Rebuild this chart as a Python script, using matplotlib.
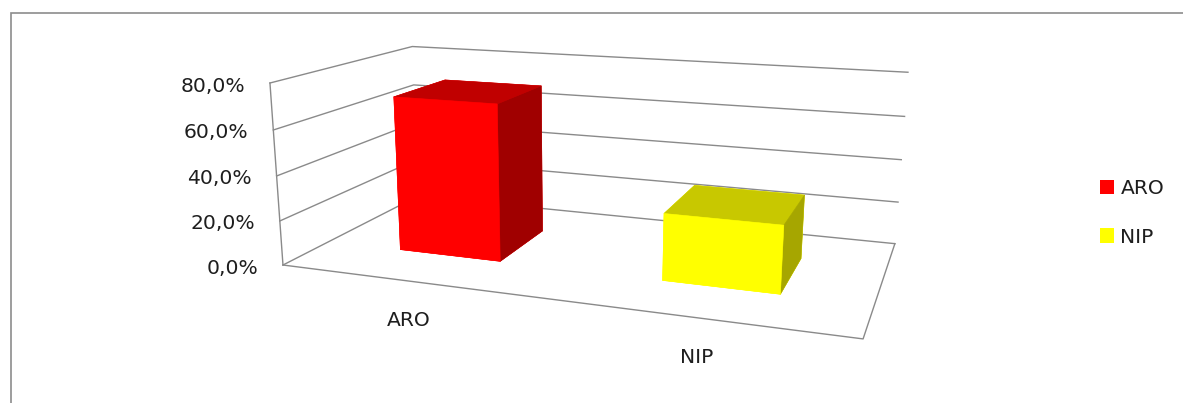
import matplotlib
matplotlib.use("Agg")
import matplotlib.pyplot as plt
from matplotlib import transforms as mtransforms
from matplotlib.patches import Patch, Rectangle

# --- data -------------------------------------------------------------
categories = ["ARO", "NIP"]
shares = [0.703, 0.292]
z_ticks = [0.0, 0.2, 0.4, 0.6, 0.8]
z_tick_labels = ["0,0%", "20,0%", "40,0%", "60,0%", "80,0%"]

# face colours per bar: (front, top, right side)
bar_faces = [("#FF0000", "#C00000", "#A00000"),
             ("#FFFF00", "#C8C800", "#A6A600")]

plt.rcParams["font.family"] = ["DejaVu Sans"]
FS = 14.6
TEXT = "#1e1e1e"
GRID = "#8a8a8a"

W_PX, H_PX = 1183, 403
fig = plt.figure(figsize=(W_PX / 100, H_PX / 100), dpi=100)

# square 3-D axes; the camera target sits a little below the middle of
# the drawn box so the walls are seen from the right and from above
side = 635.8
left, bottom = 260.5, -125.5
ax = fig.add_axes([left / W_PX, bottom / H_PX, side / W_PX, side / H_PX],
                  projection="3d", computed_zorder=False)

n = len(categories)
depth = 1.0
zmax = z_ticks[-1]
cx, cy, cz = 0.9713, 0.4555, 0.2534          # camera target
ax.set_xlim(cx - n / 2, cx + n / 2)
ax.set_ylim(cy - depth / 2, cy + depth / 2)
ax.set_zlim(cz - zmax / 2, cz + zmax / 2)
ax.set_xticks([])
ax.set_yticks([])
ax.set_zticks([])
ax.set_box_aspect((3.1008, 1.5552, 1.0))
ax.view_init(elev=15.22, azim=-70.24, roll=-0.12)
ax.set_proj_type("persp", focal_length=0.33164)
ax.set_axis_off()
for axis in (ax.xaxis, ax.yaxis, ax.zaxis):
    axis.label.set_visible(False)
    axis.offsetText.set_visible(False)

# walls: value gridlines run along the left wall and then the back wall
for z in z_ticks:
    ax.plot([0, 0, n], [0, depth, depth], [z, z, z], color=GRID, lw=1.0,
            clip_on=False, zorder=1)
# floor outline and vertical value axis
ax.plot([0, n, n], [0, 0, depth], [0, 0, 0], color=GRID, lw=1.0,
        clip_on=False, zorder=1)
ax.plot([0, 0], [0, 0], [0, zmax], color=GRID, lw=1.0,
        clip_on=False, zorder=1)

# bars: square columns, 40% of a category wide, centred in depth
bw = 0.4
for i, (val, (front, top, right)) in enumerate(zip(shares, bar_faces)):
    # face order of bar3d: bottom, top, front, back, left, right
    faces = [front, top, front, front, front, right]
    ax.bar3d(i + 0.5 - bw / 2, depth / 2 - bw / 2, 0, bw, bw, val,
             color=faces, edgecolor=faces, linewidth=0.4, shade=False,
             zorder=5, clip_on=False)


def shifted(dx, dy):
    return mtransforms.offset_copy(ax.transData, fig=fig, x=dx, y=dy,
                                   units="dots")


# value labels beside the front edge of the left wall
for z, lab in zip(z_ticks, z_tick_labels):
    ax.text(0, 0, z, lab, transform=shifted(-25, -3), ha="right",
            va="center", fontsize=FS, color=TEXT, zorder=6)

# category labels under the front edge of the floor
for i, cat in enumerate(categories):
    ax.text(i + 0.5, 0, 0, cat, transform=shifted(-1, -39.5), ha="center",
            va="center", fontsize=FS, color=TEXT, zorder=6)

handles = [Patch(facecolor=f[0], edgecolor="none") for f in bar_faces]
fig.legend(handles, categories, loc="center left",
           bbox_to_anchor=(1100 / W_PX, 1 - 213 / H_PX), frameon=False,
           borderaxespad=0, borderpad=0, handlelength=0.68,
           handleheight=0.72, handletextpad=0.33, labelspacing=1.45,
           fontsize=FS, labelcolor=TEXT)

# chart-area frame (only its top and left sides fall inside the image)
fig.add_artist(Rectangle((10.5 / W_PX, -0.5), 2.0, 1.5 - 13 / H_PX,
                         transform=fig.transFigure, fill=False,
                         edgecolor="#8c8c8c", lw=1.2))

fig.savefig("out.png", dpi=100)
